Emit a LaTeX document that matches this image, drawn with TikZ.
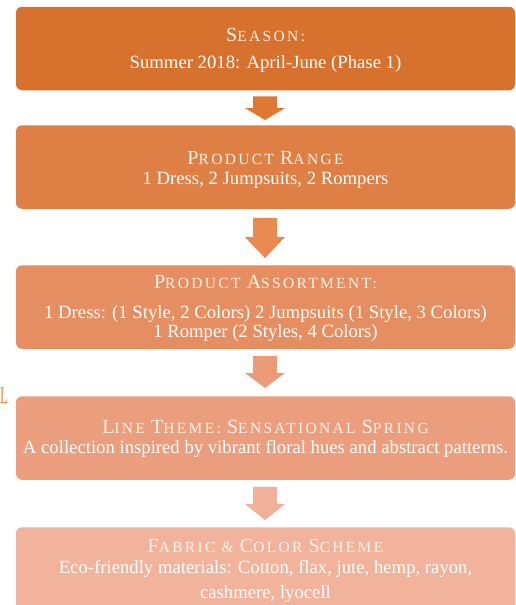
\documentclass[tikz,border=0pt]{standalone}
\usepackage{fontspec}
\setmainfont{Liberation Serif}
\newfontfamily\titrefont[LetterSpace=15]{Liberation Serif}
\usetikzlibrary{calc}

% Couleurs des cadres et des flèches
\definecolor{cadreA}{HTML}{D6712E}
\definecolor{cadreB}{HTML}{DE7F46}
\definecolor{cadreC}{HTML}{E58E62}
\definecolor{cadreD}{HTML}{EB9E7E}
\definecolor{cadreE}{HTML}{F1B39B}
\definecolor{flecheA}{HTML}{E07832}
\definecolor{flecheB}{HTML}{E98A50}
\definecolor{flecheC}{HTML}{EC9B78}
\definecolor{flecheD}{HTML}{F1B098}
\definecolor{creme}{HTML}{FDF3EA}
\definecolor{orangevif}{HTML}{F28A2E}

% Première lettre des titres, plus grande
\newcommand{\grande}[1]{{\fontsize{20}{20}\selectfont #1}}

\begin{document}
\begin{tikzpicture}[x=1pt,y=-1pt,
	cadre/.style={rounded corners=6pt, minimum width=499pt, minimum height=83.5pt, inner sep=0pt},
	titre/.style={anchor=base, inner sep=0pt, text=creme, font=\titrefont\fontsize{15.5}{18}\selectfont},
	texte/.style={anchor=base, inner sep=0pt, text=white, font=\fontsize{18.7}{20}\selectfont}]

%%%%%%%%%%%%%%%%%%%%%%
%%%	 Def géométrie  %%%
%%%%%%%%%%%%%%%%%%%%%%

\def \xc{265.5}
\def \largeur{516}
\def \hauteur{605}
\def \corps{12}
\def \tete{20}

\useasboundingbox (0,0) rectangle (\largeur,\hauteur);

%%%%%%%%%%%%%%%%%%%%%%
%%%	    Cadres      %%%
%%%%%%%%%%%%%%%%%%%%%%

\node[cadre, fill=cadreA] (saison) at (\xc,48.5) {};
\node[cadre, fill=cadreB] (gamme) at (\xc,167) {};
\node[cadre, fill=cadreC] (assort) at (\xc,307) {};
\node[cadre, fill=cadreD] (theme) at (\xc,438) {};
\node[cadre, fill=cadreE] (matiere) at (\xc,569) {};

%%%%%%%%%%%%%%%%%%%%%%
%%%	    Flèches     %%%
%%%%%%%%%%%%%%%%%%%%%%

% On dessine les grosses flèches entre deux cadres
\foreach \a/\b/\ga/\gb/\long/\coul in {saison/gamme/6/5/12/flecheA, gamme/assort/9/7/21/flecheB, assort/theme/7/8/15/flecheC, theme/matiere/7/7/16/flecheD}
{
	\coordinate (haut) at ($(\a.south)+(-0.5,\ga)$);
	\coordinate (pointe) at ($(\b.north)+(-0.5,-\gb)$);
	\coordinate (col) at ($(pointe)+(0,-\long)$);
	\fill[\coul] ($(haut)+(-\corps,0)$) -- ($(haut)+(\corps,0)$) -- ($(col)+(\corps,0)$) -- ($(col)+(\tete,0)$) -- (pointe) -- ($(col)+(-\tete,0)$) -- ($(col)+(-\corps,0)$) -- cycle;
}

%%%%%%%%%%%%%%%%%%%%%%
%%%	    Textes      %%%
%%%%%%%%%%%%%%%%%%%%%%

\node[titre] (saisonT) at (\xc,41) {\grande{S}EASON:};
\node[texte] (saisonL) at (\xc,68) {Summer 2018: April-June (Phase 1)};

\node[titre] (gammeT) at (\xc,164) {\grande{P}RODUCT \grande{R}ANGE};
\node[texte] (gammeL) at (\xc,184) {1 Dress, 2 Jumpsuits, 2 Rompers};

\node[titre] (assortT) at (\xc,288) {\grande{P}RODUCT \grande{A}SSORTMENT:};
\node[texte] (assortL) at (\xc,318) {1 Dress: (1 Style, 2 Colors) 2 Jumpsuits (1 Style, 3 Colors)};
\node[texte] (assortM) at (\xc,337) {1 Romper (2 Styles, 4 Colors)};

\node[titre] (themeT) at (\xc,433) {\grande{L}INE \grande{T}HEME: \grande{S}ENSATIONAL \grande{S}PRING};
\node[texte] (themeL) at (\xc,453) {A collection inspired by vibrant floral hues and abstract patterns.};

\node[titre] (matiereT) at (\xc,552) {\grande{F}ABRIC \& \grande{C}OLOR \grande{S}CHEME};
\node[texte] (matiereL) at (\xc,573) {Eco-friendly materials: Cotton, flax, jute, hemp, rayon,};
\node[texte] (matiereM) at (\xc,598) {cashmere, lyocell};

% Lettre coupée au bord gauche
\node[anchor=base west, inner sep=0pt, xscale=0.55, text=orangevif, font=\fontsize{24}{24}\selectfont] (lettre) at (0,403) {L};

%%%%%%%%%%%%%%%%%%%%%%%%%%%%%%%%%%%%%%%%%

\end{tikzpicture}
\end{document}
